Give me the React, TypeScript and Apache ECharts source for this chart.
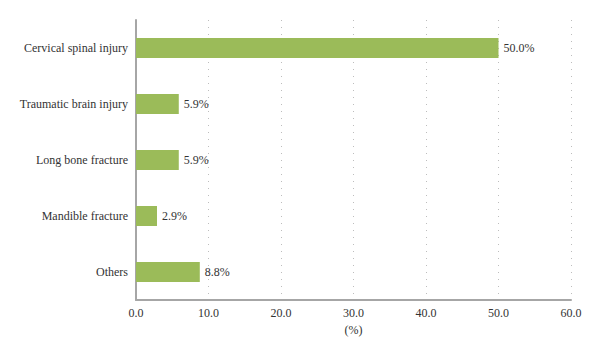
import React, { useEffect, useRef } from "react";
import * as echarts from "echarts";

const categories = [
  "Cervical spinal injury",
  "Traumatic brain injury",
  "Long bone fracture",
  "Mandible fracture",
  "Others",
];
const values = [50.0, 5.9, 5.9, 2.9, 8.8];

export default function App() {
  const ref = useRef<HTMLDivElement>(null);
  useEffect(() => {
    if (!ref.current) return;
    const chart = echarts.init(ref.current, undefined, { renderer: "svg" });
    const font = "'Liberation Serif', 'DejaVu Serif', serif";
    chart.setOption({
      animation: false,
      textStyle: { fontFamily: font },
      grid: { left: 128, right: 37, top: 12, bottom: 60, containLabel: false },
      xAxis: {
        type: "value",
        min: 0,
        max: 60,
        interval: 10,
        name: "(%)",
        nameLocation: "middle",
        nameGap: 24,
        nameTextStyle: { fontFamily: font, fontSize: 12, color: "#333" },
        axisLine: { show: true, lineStyle: { color: "#a6a6a6", width: 2 } },
        axisTick: { show: false },
        axisLabel: {
          fontFamily: font,
          fontSize: 12,
          color: "#333",
          margin: 7,
          formatter: (v: number) => v.toFixed(1),
        },
        splitLine: {
          show: true,
          lineStyle: { color: "#bdbdbd", type: [1, 6], width: 1 },
        },
      },
      yAxis: {
        type: "category",
        data: categories,
        inverse: true,
        axisLine: { show: true, lineStyle: { color: "#a6a6a6", width: 2 } },
        axisTick: { show: false },
        axisLabel: { fontFamily: font, fontSize: 12, color: "#333", margin: 8 },
      },
      series: [
        {
          type: "bar",
          data: values,
          barWidth: 20,
          itemStyle: { color: "#9bbb59" },
          label: {
            show: true,
            position: "right",
            distance: 5,
            fontFamily: font,
            fontSize: 12,
            color: "#333",
            formatter: (p: any) => p.value.toFixed(1) + "%",
          },
        },
      ],
    });
    return () => chart.dispose();
  }, []);
  return <div ref={ref} style={{ width: 600, height: 352 }} />;
}
